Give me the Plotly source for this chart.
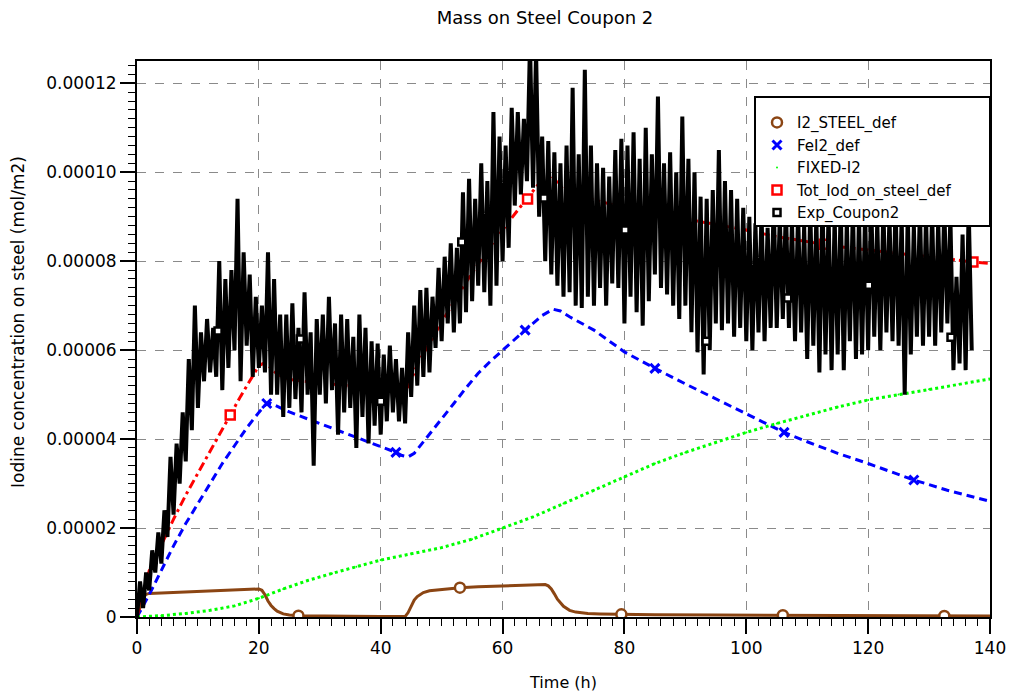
import numpy as np
import plotly.graph_objects as go

# ---------------- data ----------------
# I2 adsorbed on steel (mol/m2, values in 1e-6)
t_i2 = [0, 0.5, 1, 1.5, 2, 4, 8, 12, 16, 20, 20.5, 21, 21.5, 22, 22.5, 23, 24, 25,
        26.5, 30, 35, 40, 44, 44.5, 45, 45.5, 46, 46.5, 47, 48, 50, 53, 56, 60, 64,
        67, 67.5, 68, 68.5, 69, 70, 71, 72, 73, 74, 76, 79.5, 85, 95, 106, 120, 132.5, 140]
v_i2 = [0, 2.5, 4.5, 5.1, 5.3, 5.4, 5.6, 5.8, 6.0, 6.3, 6.0, 5.0, 3.6, 2.6, 1.9, 1.3, 0.7, 0.45,
        0.3, 0.2, 0.15, 0.1, 0.1, 1.0, 2.6, 3.8, 4.6, 5.1, 5.5, 5.9, 6.2, 6.6, 6.8, 7.0, 7.2,
        7.3, 7.0, 6.3, 5.2, 4.0, 2.4, 1.5, 1.1, 0.9, 0.8, 0.7, 0.6, 0.5, 0.45, 0.4, 0.3, 0.25, 0.2]
t_i2_mk = [26.5, 53, 79.5, 106, 132.5]
v_i2_mk = [0.3, 6.6, 0.6, 0.4, 0.25]

# FeI2 on steel (values in 1e-5)
t_fe = [0, 2, 4, 6, 8, 10, 12, 14, 16, 18, 20, 21.3, 22, 25, 30, 35, 40, 42.5, 43.5,
        44.5, 45.5, 46.5, 48, 50, 52, 54, 56, 58, 60, 62, 63.7, 65, 66.5, 68.3, 69.5,
        71, 75, 80, 85, 90, 95, 100, 106.2, 110, 115, 120, 127.5, 133, 140]
v_fe = [0, 0.5, 1.05, 1.6, 2.1, 2.55, 3.0, 3.45, 3.85, 4.25, 4.6, 4.8, 4.8, 4.61, 4.35,
        4.09, 3.83, 3.7, 3.63, 3.6, 3.68, 3.85, 4.1, 4.45, 4.8, 5.15, 5.48, 5.75, 6.0,
        6.25, 6.45, 6.6, 6.78, 6.92, 6.88, 6.75, 6.45, 5.96, 5.59, 5.24, 4.9, 4.57,
        4.15, 3.94, 3.68, 3.45, 3.08, 2.85, 2.6]
t_fe_mk = [21.3, 42.5, 63.7, 85, 106.2, 127.5]
v_fe_mk = [4.8, 3.7, 6.45, 5.59, 4.15, 3.08]

# fixed iodine (values in 1e-5)
t_fx = [0, 4, 8, 12, 16, 20, 24, 28, 32, 36, 40, 45, 50, 55, 60, 65, 70, 75, 80,
        85, 90, 95, 100, 105, 110, 115, 120, 125, 130, 135, 140]
v_fx = [0, 0.03, 0.08, 0.15, 0.25, 0.42, 0.63, 0.82, 0.98, 1.13, 1.28, 1.42, 1.56,
        1.75, 2.0, 2.25, 2.55, 2.85, 3.15, 3.45, 3.7, 3.93, 4.15, 4.35, 4.53, 4.72,
        4.88, 5.0, 5.12, 5.24, 5.35]

# total iodine on steel (values in 1e-5)
t_tot = [0, 2, 4, 6, 8, 10, 12, 14, 15.3, 17, 19, 20, 21, 22, 23, 25, 30, 35, 40, 44,
         45, 46, 48, 50, 54, 58, 62, 66, 68, 70, 72, 75, 80, 85, 90, 95, 100, 105,
         110, 115, 120, 125, 130, 137.2, 140]
v_tot = [0, 1.04, 1.62, 2.2, 2.74, 3.23, 3.73, 4.24, 4.54, 4.96, 5.42, 5.65, 5.72,
         5.58, 5.46, 5.34, 5.27, 5.2, 5.12, 5.03, 5.32, 5.68, 6.17, 6.63, 7.53, 8.34,
         9.06, 9.75, 9.93, 9.6, 9.5, 9.38, 9.2, 9.06, 8.95, 8.82, 8.7, 8.55, 8.44,
         8.33, 8.25, 8.18, 8.1, 7.98, 7.95]
t_tot_mk = [15.3, 39.7, 64.1, 88.5, 112.8, 137.2]
v_tot_mk = [4.54, 5.13, 9.4, 8.98, 8.38, 7.98]

# measured coupon 2 (values in 1e-5, sampled every 0.5 h from 0 to 137 h)
t_exp = np.arange(0, 137.25, 0.5)
v_exp = [
    0.0, 0.8, 0.2, 1.0, 0.6, 1.5, 1.0, 1.9, 1.2, 2.4,
    1.8, 3.6, 2.3, 3.9, 3.0, 4.6, 3.5, 5.8, 4.2, 7.0,
    4.7, 6.4, 5.3, 6.7, 5.5, 6.5, 5.4, 8.0, 5.1, 7.6,
    5.6, 7.8, 6.0, 9.4, 5.3, 8.2, 6.1, 7.7, 5.4, 7.2,
    5.6, 7.0, 5.5, 8.2, 5.0, 7.6, 5.0, 6.8, 4.5, 6.8,
    4.7, 7.05, 4.9, 6.5, 4.6, 7.3, 5.0, 6.4, 3.4, 6.7,
    5.0, 6.8, 4.8, 7.2, 5.1, 6.6, 4.1, 6.8, 4.6, 6.7,
    4.7, 6.3, 3.8, 6.8, 4.5, 6.5, 3.9, 6.2, 4.3, 6.15,
    4.1, 5.9, 4.4, 6.1, 4.6, 5.8, 4.4, 5.6, 4.35, 6.4,
    4.95, 7.0, 5.2, 7.35, 5.4, 7.4, 5.5, 7.2, 6.05, 7.85,
    6.2, 8.1, 6.6, 8.4, 6.4, 8.3, 6.6, 9.55, 6.85, 9.85,
    7.1, 9.4, 7.45, 10.2, 7.3, 9.8, 7.0, 11.35, 7.45, 10.8,
    8.0, 10.6, 8.3, 11.45, 9.25, 11.35, 9.5, 11.2, 9.8, 12.9,
    9.65, 12.7, 9.0, 10.8, 8.0, 10.7, 7.7, 10.45, 7.45, 10.2,
    7.2, 10.6, 7.3, 11.9, 7.0, 10.4, 6.95, 12.3, 7.2, 10.6,
    7.0, 10.2, 7.4, 10.1, 7.0, 9.9, 7.5, 10.5, 7.4, 10.75,
    6.6, 10.6, 7.2, 10.9, 6.85, 10.3, 6.55, 11.0, 7.1, 10.4,
    7.7, 11.7, 7.4, 10.2, 7.25, 10.45, 7.0, 10.0, 6.7, 11.25,
    7.0, 10.3, 6.4, 10.0, 5.95, 9.45, 5.45, 9.4, 6.0, 9.6,
    6.6, 10.5, 6.45, 9.8, 6.6, 9.6, 6.3, 9.4, 6.5, 9.2,
    6.2, 9.0, 6.0, 8.85, 6.4, 9.1, 6.2, 8.75, 6.5, 9.3,
    6.5, 9.0, 6.7, 9.2, 6.5, 8.9, 6.2, 9.1, 6.4, 8.8,
    5.8, 9.2, 6.1, 9.0, 5.5, 9.4, 5.9, 9.1, 5.55, 9.0,
    5.9, 9.3, 5.55, 8.9, 6.2, 9.2, 5.8, 9.0, 5.9, 9.1,
    6.0, 9.4, 6.3, 8.9, 6.0, 9.2, 6.4, 9.0, 6.2, 9.3,
    6.1, 9.0, 5.0, 9.1, 5.9, 8.8, 6.3, 9.2, 6.1, 9.0,
    6.3, 9.1, 6.1, 8.9, 6.4, 9.2, 6.6, 9.0, 5.55, 7.65,
    5.7, 8.6, 5.55, 9.2, 6.0,
]
t_exp_mk = [13.3, 26.8, 40.0, 53.3, 66.8, 80.1, 93.4, 106.8, 120.1, 133.6]
v_exp_mk = [6.43, 6.25, 4.85, 8.43, 9.42, 8.7, 6.2, 7.17, 7.46, 6.29]

x_ticks = [0, 20, 40, 60, 80, 100, 120, 140]
y_ticks = [0, 2e-5, 4e-5, 6e-5, 8e-5, 1e-4, 1.2e-4]
y_tick_text = ["0", "0.00002", "0.00004", "0.00006", "0.00008", "0.00010", "0.00012"]

E5 = 1e-5
E6 = 1e-6

BROWN = "#8B4513"
BLUE = "#0000FF"
GREEN = "#00FF00"
RED = "#FF0000"
BLACK = "#000000"

fig = go.Figure()

# I2_STEEL_def
fig.add_trace(go.Scatter(x=t_i2, y=np.array(v_i2) * E6, mode="lines",
                         line=dict(color=BROWN, width=3), showlegend=False))
fig.add_trace(go.Scatter(x=t_i2_mk, y=np.array(v_i2_mk) * E6, mode="markers",
                         name="I2_STEEL_def",
                         marker=dict(symbol="circle", size=10, color="white",
                                     line=dict(color=BROWN, width=2.5))))

# FeI2_def
fig.add_trace(go.Scatter(x=t_fe, y=np.array(v_fe) * E5, mode="lines",
                         line=dict(color=BLUE, width=3, dash="8px,5px"), showlegend=False))
fig.add_trace(go.Scatter(x=t_fe_mk, y=np.array(v_fe_mk) * E5, mode="markers",
                         name="FeI2_def",
                         marker=dict(symbol="x-thin", size=9, color=BLUE,
                                     line=dict(color=BLUE, width=3))))

# FIXED-I2
fig.add_trace(go.Scatter(x=t_fx, y=np.array(v_fx) * E5, mode="lines",
                         line=dict(color=GREEN, width=3, dash="3px,3px"), showlegend=False))
fig.add_trace(go.Scatter(x=t_fx, y=np.array(v_fx) * E5, mode="markers",
                         name="FIXED-I2",
                         marker=dict(symbol="circle", size=2, color=GREEN)))

# Tot_Iod_on_steel_def
fig.add_trace(go.Scatter(x=t_tot, y=np.array(v_tot) * E5, mode="lines",
                         line=dict(color=RED, width=3, dash="9px,4px,3px,4px"),
                         showlegend=False))
fig.add_trace(go.Scatter(x=t_tot_mk, y=np.array(v_tot_mk) * E5, mode="markers",
                         name="Tot_Iod_on_steel_def",
                         marker=dict(symbol="square", size=9, color="white",
                                     line=dict(color=RED, width=2.5))))

# Exp_Coupon2 (drawn last, over the model curves)
fig.add_trace(go.Scatter(x=t_exp, y=np.array(v_exp) * E5, mode="lines",
                         line=dict(color=BLACK, width=4, simplify=False),
                         showlegend=False))
fig.add_trace(go.Scatter(x=t_exp_mk, y=np.array(v_exp_mk) * E5, mode="markers",
                         name="Exp_Coupon2",
                         marker=dict(symbol="square", size=7, color="white",
                                     line=dict(color=BLACK, width=2.5))))

FONT = "DejaVu Sans"

axis_common = dict(
    showline=True, linecolor="black", linewidth=2, mirror=True,
    ticks="outside", ticklen=15, tickwidth=1.5, tickcolor="black",
    showgrid=True, gridcolor="#8a8a8a", gridwidth=1, griddash="dash",
    zeroline=False, automargin=False,
    tickfont=dict(family=FONT, size=17, color="black"),
)

# legend frame, in plot-area fractions
PLOT_W, PLOT_H = 853, 556
box_x0 = (755 - 137) / PLOT_W
box_x1 = 1.0
box_y1 = (617 - 97) / PLOT_H
box_y0 = (617 - 226) / PLOT_H

fig.update_layout(
    width=1011, height=692,
    margin=dict(l=137, r=21, t=61, b=75),
    plot_bgcolor="white", paper_bgcolor="white",
    font=dict(family=FONT, color="black"),
    title=dict(text="Mass on Steel Coupon 2", x=545 / 1011, xanchor="center",
               y=1 - 18 / 692, yanchor="middle", font=dict(family=FONT, size=18)),
    xaxis=dict(range=[0, 140], tickmode="array", tickvals=x_ticks,
               minor=dict(tickmode="linear", tick0=0, dtick=2, ticks="outside",
                          ticklen=7, tickcolor="black", tickwidth=1, showgrid=False),
               title=dict(text="Time (h)", font=dict(family=FONT, size=16), standoff=20),
               **axis_common),
    yaxis=dict(range=[0, 0.000125], tickmode="array", tickvals=y_ticks,
               ticktext=y_tick_text,
               minor=dict(tickmode="linear", tick0=0, dtick=2e-6, ticks="outside",
                          ticklen=7, tickcolor="black", tickwidth=1, showgrid=False),
               **axis_common),
    annotations=[dict(text="Iodine concentration on steel (mol/m2)",
                      xref="paper", yref="paper",
                      x=(18 - 137) / PLOT_W, y=(617 - 322) / PLOT_H,
                      xanchor="center", yanchor="middle", textangle=-90,
                      showarrow=False, font=dict(family=FONT, size=17, color="black"))],
    shapes=[dict(type="rect", xref="paper", yref="paper",
                 x0=box_x0, x1=box_x1, y0=box_y0, y1=box_y1,
                 fillcolor="white", line=dict(color="black", width=2), layer="above")],
    legend=dict(x=box_x0 + 2 / PLOT_W, y=box_y1 - 4 / PLOT_H, xanchor="left", yanchor="top",
                bgcolor="rgba(0,0,0,0)", borderwidth=0,
                font=dict(family=FONT, size=15, color="black"),
                itemsizing="trace", tracegroupgap=0,
                title=dict(text=" ", font=dict(size=4))),
)

fig.write_html("out.html")
